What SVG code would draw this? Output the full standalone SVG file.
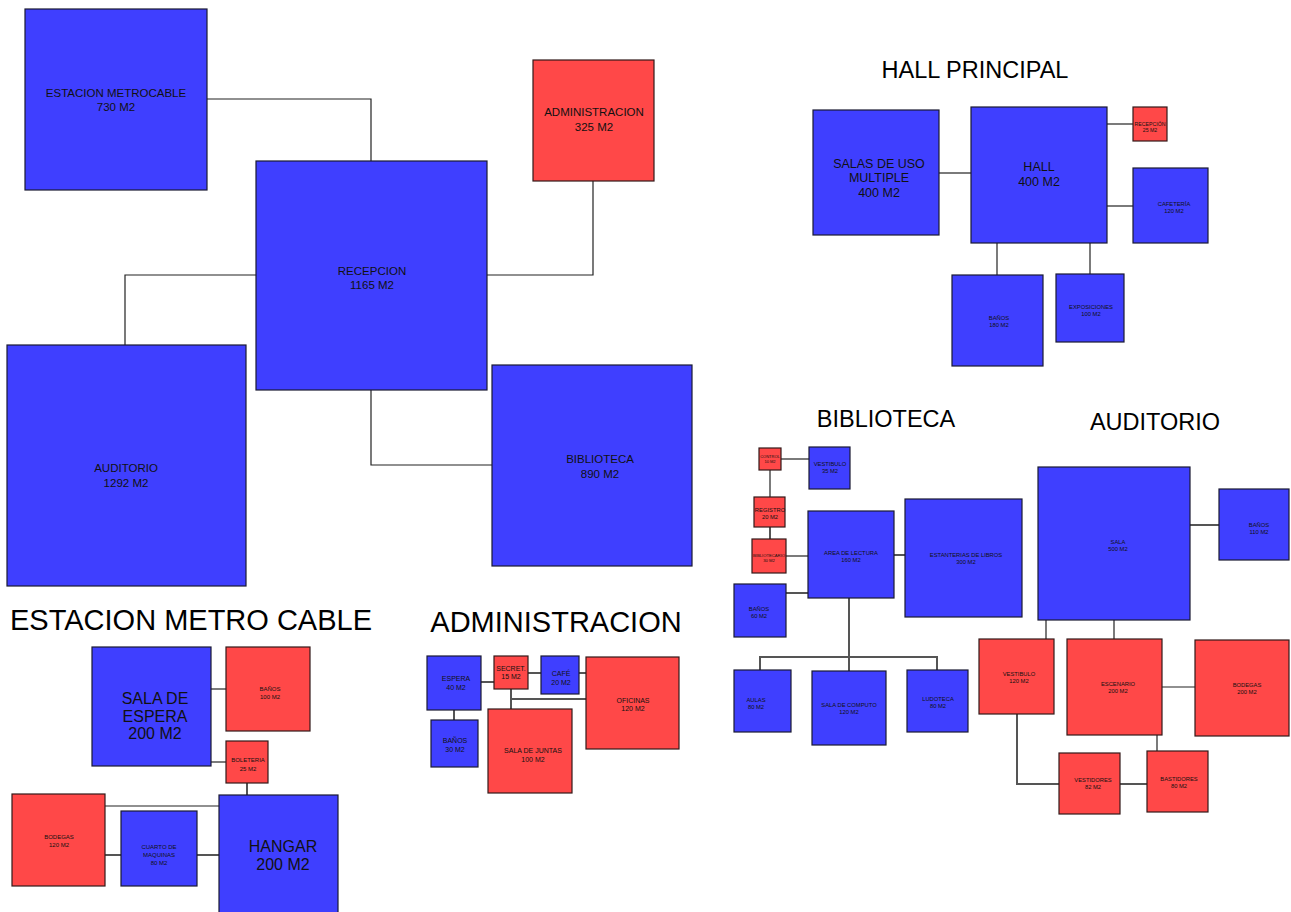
<svg xmlns="http://www.w3.org/2000/svg" width="1291" height="912" viewBox="0 0 1291 912">
  <style>
    .b { fill: #3f3fff; stroke: #1a1a33; stroke-width: 1.2; }
    .r { fill: #ff4848; stroke: #331a1a; stroke-width: 1.2; }
    .t { font-family: "Liberation Sans", Arial, sans-serif; fill: #111; text-anchor: middle; }
    .title { font-family: "Liberation Sans", Arial, sans-serif; fill: #000; text-anchor: middle; }
    .c { fill: none; stroke: #222; stroke-width: 1.2; }
    .cg { fill: none; stroke: #555; stroke-width: 2; }
  </style>
  <rect width="1291" height="912" fill="#fff"/>

  <!-- section titles -->
  <g id="titles">
    <text class="title" x="975" y="78" font-size="23.5">HALL PRINCIPAL</text>
    <text class="title" x="886" y="427" font-size="23.5">BIBLIOTECA</text>
    <text class="title" x="1155" y="430" font-size="23.5">AUDITORIO</text>
    <text class="title" x="191" y="630" font-size="29">ESTACION METRO CABLE</text>
    <text class="title" x="556" y="632" font-size="29">ADMINISTRACION</text>
  </g>

  <!-- connectors -->
  <g id="connectors">
    <!-- general scheme -->
    <polyline class="c" points="207,99 371,99 371,161"/>
    <polyline class="c" points="256,275 125,275 125,345"/>
    <polyline class="c" points="487,275 593,275 593,181"/>
    <polyline class="c" points="371,390 371,465 492,465"/>
    <!-- hall principal -->
    <line class="c" x1="939" y1="173" x2="971" y2="173"/>
    <line class="c" x1="1107" y1="124" x2="1133" y2="124"/>
    <line class="c" x1="1107" y1="206" x2="1133" y2="206"/>
    <line class="c" x1="997" y1="243" x2="997" y2="275"/>
    <line class="c" x1="1090" y1="243" x2="1090" y2="274"/>
    <!-- biblioteca -->
    <line class="c" x1="781" y1="459" x2="809" y2="459"/>
    <line class="c" x1="770" y1="470" x2="770" y2="497"/>
    <line class="cg" x1="770" y1="527" x2="770" y2="539"/>
    <line class="c" x1="786" y1="556" x2="808" y2="556"/>
    <line class="cg" x1="786" y1="593" x2="808" y2="593"/>
    <line class="cg" x1="894" y1="555" x2="905" y2="555"/>
    <line class="cg" x1="849" y1="598" x2="849" y2="671"/>
    <polyline class="cg" points="760,670 760,657 937,657 937,670"/>
    <!-- auditorio -->
    <line class="cg" x1="1190" y1="525" x2="1219" y2="525"/>
    <line class="c" x1="1046" y1="620" x2="1046" y2="639"/>
    <line class="c" x1="1114" y1="620" x2="1114" y2="639"/>
    <line class="c" x1="1162" y1="687" x2="1195" y2="687"/>
    <line class="c" x1="1157" y1="735" x2="1157" y2="751"/>
    <polyline class="cg" points="1017,714 1017,784 1059,784"/>
    <line class="cg" x1="1120" y1="784" x2="1147" y2="784"/>
    <!-- administracion -->
    <line class="cg" x1="481" y1="682" x2="494" y2="682"/>
    <line class="cg" x1="528" y1="673" x2="541" y2="673"/>
    <line class="cg" x1="579" y1="673" x2="586" y2="673"/>
    <line class="cg" x1="454" y1="710" x2="454" y2="720"/>
    <line class="cg" x1="511" y1="689" x2="511" y2="709"/>
    <line class="cg" x1="511" y1="699" x2="586" y2="699"/>
    <!-- estacion metro cable -->
    <line class="c" x1="211" y1="689" x2="226" y2="689"/>
    <line class="c" x1="211" y1="762" x2="226" y2="762"/>
    <line class="cg" x1="247" y1="783" x2="247" y2="795"/>
    <line class="c" x1="105" y1="806" x2="219" y2="806"/>
    <line class="cg" x1="105" y1="855" x2="121" y2="855"/>
    <line class="cg" x1="197" y1="855" x2="219" y2="855"/>
  </g>

  <!-- general scheme nodes -->
  <g id="estacion-metrocable">
    <rect class="b" x="25" y="9" width="182" height="181"/>
    <text class="t" font-size="11.5"><tspan x="116" y="97">ESTACION METROCABLE</tspan><tspan x="116" y="111">730 M2</tspan></text>
  </g>
  <g id="recepcion">
    <rect class="b" x="256" y="161" width="231" height="229"/>
    <text class="t" font-size="11.5"><tspan x="372" y="275">RECEPCION</tspan><tspan x="372" y="289">1165 M2</tspan></text>
  </g>
  <g id="administracion">
    <rect class="r" x="533" y="60" width="121" height="121"/>
    <text class="t" font-size="11.5"><tspan x="594" y="116">ADMINISTRACION</tspan><tspan x="594" y="131">325 M2</tspan></text>
  </g>
  <g id="auditorio">
    <rect class="b" x="7" y="345" width="239" height="241"/>
    <text class="t" font-size="11.5"><tspan x="126" y="472">AUDITORIO</tspan><tspan x="126" y="487">1292 M2</tspan></text>
  </g>
  <g id="biblioteca">
    <rect class="b" x="492" y="365" width="200" height="201"/>
    <text class="t" font-size="11.5"><tspan x="600" y="463">BIBLIOTECA</tspan><tspan x="600" y="478">890 M2</tspan></text>
  </g>

  <!-- hall principal -->
  <g id="hall-salas">
    <rect class="b" x="813" y="110" width="126" height="125"/>
    <text class="t" font-size="12.5"><tspan x="879" y="168">SALAS DE USO</tspan><tspan x="879" y="182">MULTIPLE</tspan><tspan x="879" y="197">400 M2</tspan></text>
  </g>
  <g id="hall-hall">
    <rect class="b" x="971" y="107" width="136" height="136"/>
    <text class="t" font-size="12.5"><tspan x="1039" y="171">HALL</tspan><tspan x="1039" y="186">400 M2</tspan></text>
  </g>
  <g id="hall-recepcion">
    <rect class="r" x="1133" y="107" width="34" height="34"/>
    <text class="t" font-size="5.2"><tspan x="1150" y="126">RECEPCIÓN</tspan><tspan x="1150" y="132">25 M2</tspan></text>
  </g>
  <g id="hall-cafeteria">
    <rect class="b" x="1133" y="168" width="75" height="75"/>
    <text class="t" font-size="5.8"><tspan x="1174" y="206">CAFETERÍA</tspan><tspan x="1174" y="213">120 M2</tspan></text>
  </g>
  <g id="hall-banos">
    <rect class="b" x="952" y="275" width="91" height="91"/>
    <text class="t" font-size="5.8"><tspan x="999" y="320">BAÑOS</tspan><tspan x="999" y="327">180 M2</tspan></text>
  </g>
  <g id="hall-exposiciones">
    <rect class="b" x="1056" y="274" width="68" height="68"/>
    <text class="t" font-size="5.8"><tspan x="1091" y="309">EXPOSICIONES</tspan><tspan x="1091" y="316">100 M2</tspan></text>
  </g>

  <!-- biblioteca -->
  <g id="bib-control">
    <rect class="r" x="759" y="448" width="22" height="22"/>
    <text class="t" font-size="4"><tspan x="770" y="458">CONTROL</tspan><tspan x="770" y="463">10 M2</tspan></text>
  </g>
  <g id="bib-vestibulo">
    <rect class="b" x="809" y="447" width="41" height="42"/>
    <text class="t" font-size="5.8"><tspan x="830" y="466">VESTIBULO</tspan><tspan x="830" y="473">35 M2</tspan></text>
  </g>
  <g id="bib-registro">
    <rect class="r" x="754" y="497" width="31" height="30"/>
    <text class="t" font-size="5.8"><tspan x="770" y="512">REGISTRO</tspan><tspan x="770" y="519">20 M2</tspan></text>
  </g>
  <g id="bib-bibliotecario">
    <rect class="r" x="752" y="539" width="34" height="34"/>
    <text class="t" font-size="4.2"><tspan x="769" y="557">BIBLIOTECARIO</tspan><tspan x="769" y="562">30 M2</tspan></text>
  </g>
  <g id="bib-area-lectura">
    <rect class="b" x="808" y="511" width="86" height="87"/>
    <text class="t" font-size="5.8"><tspan x="851" y="555">AREA DE LECTURA</tspan><tspan x="851" y="562">160 M2</tspan></text>
  </g>
  <g id="bib-estanterias">
    <rect class="b" x="905" y="499" width="117" height="118"/>
    <text class="t" font-size="5.8"><tspan x="966" y="557">ESTANTERIAS DE LIBROS</tspan><tspan x="966" y="564">300 M2</tspan></text>
  </g>
  <g id="bib-banos">
    <rect class="b" x="734" y="584" width="52" height="53"/>
    <text class="t" font-size="5.8"><tspan x="759" y="611">BAÑOS</tspan><tspan x="759" y="618">60 M2</tspan></text>
  </g>
  <g id="bib-aulas">
    <rect class="b" x="734" y="670" width="57" height="62"/>
    <text class="t" font-size="5.8"><tspan x="756" y="702">AULAS</tspan><tspan x="756" y="709">80 M2</tspan></text>
  </g>
  <g id="bib-computo">
    <rect class="b" x="812" y="671" width="74" height="74"/>
    <text class="t" font-size="5.8"><tspan x="849" y="707">SALA DE COMPUTO</tspan><tspan x="849" y="714">120 M2</tspan></text>
  </g>
  <g id="bib-ludoteca">
    <rect class="b" x="907" y="670" width="61" height="62"/>
    <text class="t" font-size="5.8"><tspan x="938" y="701">LUDOTECA</tspan><tspan x="938" y="708">80 M2</tspan></text>
  </g>

  <!-- auditorio -->
  <g id="aud-sala">
    <rect class="b" x="1038" y="467" width="152" height="153"/>
    <text class="t" font-size="5.8"><tspan x="1118" y="544">SALA</tspan><tspan x="1118" y="551">500 M2</tspan></text>
  </g>
  <g id="aud-banos">
    <rect class="b" x="1219" y="489" width="70" height="71"/>
    <text class="t" font-size="5.8"><tspan x="1259" y="527">BAÑOS</tspan><tspan x="1259" y="534">110 M2</tspan></text>
  </g>
  <g id="aud-vestibulo">
    <rect class="r" x="979" y="639" width="75" height="75"/>
    <text class="t" font-size="5.8"><tspan x="1019" y="676">VESTIBULO</tspan><tspan x="1019" y="683">120 M2</tspan></text>
  </g>
  <g id="aud-escenario">
    <rect class="r" x="1067" y="639" width="95" height="96"/>
    <text class="t" font-size="5.8"><tspan x="1118" y="686">ESCENARIO</tspan><tspan x="1118" y="693">200 M2</tspan></text>
  </g>
  <g id="aud-bodegas">
    <rect class="r" x="1195" y="640" width="94" height="96"/>
    <text class="t" font-size="5.8"><tspan x="1247" y="687">BODEGAS</tspan><tspan x="1247" y="694">200 M2</tspan></text>
  </g>
  <g id="aud-vestidores">
    <rect class="r" x="1059" y="753" width="61" height="61"/>
    <text class="t" font-size="5.8"><tspan x="1093" y="782">VESTIDORES</tspan><tspan x="1093" y="789">82 M2</tspan></text>
  </g>
  <g id="aud-bastidores">
    <rect class="r" x="1147" y="751" width="61" height="61"/>
    <text class="t" font-size="5.8"><tspan x="1179" y="781">BASTIDORES</tspan><tspan x="1179" y="788">80 M2</tspan></text>
  </g>

  <!-- administracion -->
  <g id="adm-espera">
    <rect class="b" x="427" y="656" width="54" height="54"/>
    <text class="t" font-size="7"><tspan x="456" y="681">ESPERA</tspan><tspan x="456" y="690">40 M2</tspan></text>
  </g>
  <g id="adm-secret">
    <rect class="r" x="494" y="656" width="34" height="33"/>
    <text class="t" font-size="7"><tspan x="511" y="671">SECRET.</tspan><tspan x="511" y="679">15 M2</tspan></text>
  </g>
  <g id="adm-cafe">
    <rect class="b" x="541" y="656" width="38" height="38"/>
    <text class="t" font-size="7"><tspan x="561" y="676">CAFÉ</tspan><tspan x="561" y="685">20 M2</tspan></text>
  </g>
  <g id="adm-oficinas">
    <rect class="r" x="586" y="657" width="93" height="92"/>
    <text class="t" font-size="7"><tspan x="633" y="703">OFICINAS</tspan><tspan x="633" y="711">120 M2</tspan></text>
  </g>
  <g id="adm-banos">
    <rect class="b" x="431" y="720" width="47" height="47"/>
    <text class="t" font-size="7"><tspan x="455" y="743">BAÑOS</tspan><tspan x="455" y="752">30 M2</tspan></text>
  </g>
  <g id="adm-juntas">
    <rect class="r" x="488" y="709" width="84" height="84"/>
    <text class="t" font-size="7"><tspan x="533" y="753">SALA DE JUNTAS</tspan><tspan x="533" y="762">100 M2</tspan></text>
  </g>

  <!-- estacion metro cable -->
  <g id="emc-sala-espera">
    <rect class="b" x="92" y="647" width="119" height="119"/>
    <text class="t" font-size="16"><tspan x="155" y="704">SALA DE</tspan><tspan x="155" y="722">ESPERA</tspan><tspan x="155" y="739">200 M2</tspan></text>
  </g>
  <g id="emc-banos">
    <rect class="r" x="226" y="647" width="84" height="84"/>
    <text class="t" font-size="6"><tspan x="270" y="691">BAÑOS</tspan><tspan x="270" y="699">100 M2</tspan></text>
  </g>
  <g id="emc-boleteria">
    <rect class="r" x="226" y="741" width="42" height="42"/>
    <text class="t" font-size="6"><tspan x="248" y="762">BOLETERIA</tspan><tspan x="248" y="771">25 M2</tspan></text>
  </g>
  <g id="emc-hangar">
    <rect class="b" x="219" y="795" width="119" height="120"/>
    <text class="t" font-size="16"><tspan x="283" y="852">HANGAR</tspan><tspan x="283" y="870">200 M2</tspan></text>
  </g>
  <g id="emc-bodegas">
    <rect class="r" x="12" y="794" width="93" height="92"/>
    <text class="t" font-size="6"><tspan x="59" y="839">BODEGAS</tspan><tspan x="59" y="847">120 M2</tspan></text>
  </g>
  <g id="emc-cuarto">
    <rect class="b" x="121" y="811" width="76" height="75"/>
    <text class="t" font-size="6"><tspan x="159" y="849">CUARTO DE</tspan><tspan x="159" y="857">MAQUINAS</tspan><tspan x="159" y="865">80 M2</tspan></text>
  </g>
</svg>
